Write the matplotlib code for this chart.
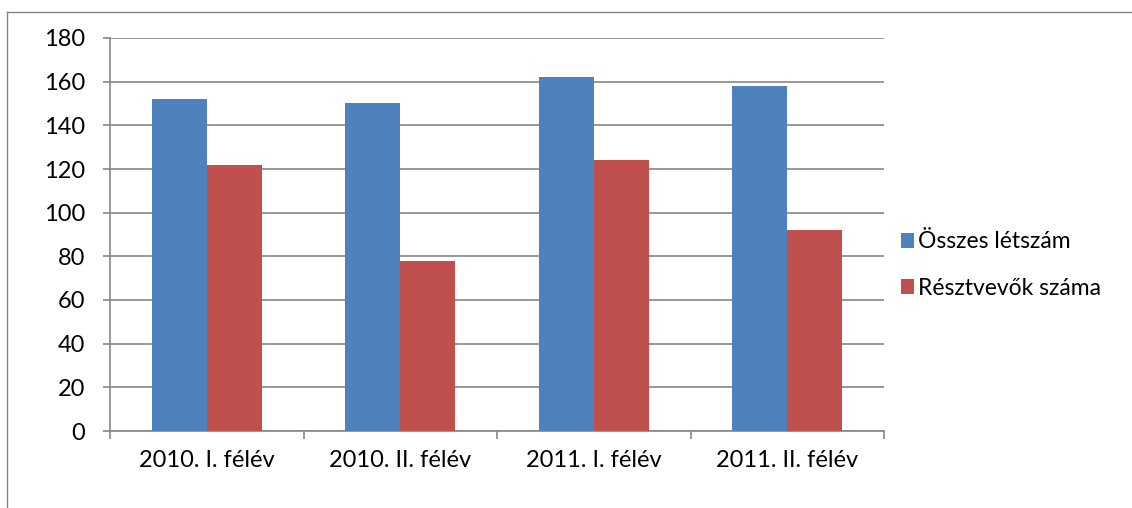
import numpy as np
import matplotlib.pyplot as plt
from matplotlib.lines import Line2D

plt.rcParams['font.family'] = ['Lato', 'DejaVu Sans']

categories = ['2010. I. félév', '2010. II. félév', '2011. I. félév', '2011. II. félév']
osszes = [152, 150, 162, 158]
resztvevok = [122, 78, 124, 92]
yticks = [0, 20, 40, 60, 80, 100, 120, 140, 160, 180]

W, H = 1132, 508
fig = plt.figure(figsize=(W / 100, H / 100), dpi=100)
ax = fig.add_axes([110 / W, 1 - 431 / H, (884 - 110) / W, (431 - 38) / H])

x = np.arange(len(categories))
bw = 0.285
ax.bar(x - bw / 2, osszes, bw, color='#4F81BD', label='Összes létszám', zorder=3)
ax.bar(x + bw / 2, resztvevok, bw, color='#C0504D', label='Résztvevők száma', zorder=3)

ax.set_xlim(-0.5, len(categories) - 0.5)
ax.set_ylim(0, 180)
ax.set_yticks(yticks)
ax.yaxis.grid(True, color='#868686', linewidth=1.2, zorder=0)
ax.set_axisbelow(True)

# category labels centred, tick marks on boundaries
ax.set_xticks(x)
ax.set_xticklabels(categories, fontsize=17)
ax.tick_params(axis='x', length=0, pad=14)
ax.set_xticks(np.arange(-0.5, len(categories)), minor=True)
ax.tick_params(axis='x', which='minor', length=6, color='#868686', width=1.2)
ax.tick_params(axis='y', labelsize=17, length=5, color='#868686', width=1.2, pad=13)

for s in ['top', 'right']:
    ax.spines[s].set_visible(False)
for s in ['left', 'bottom']:
    ax.spines[s].set_color('#868686')
    ax.spines[s].set_linewidth(1.2)

fig.legend(loc='center left', bbox_to_anchor=(880 / W, 1 - 265 / H), frameon=False,
           fontsize=16.5, handlelength=0.6, handleheight=0.6, handletextpad=0.15,
           labelspacing=1.1)

# outer chart border
fig.add_artist(Line2D([7 / W, 7 / W], [0, 1 - 12 / H], color='#868686', lw=1, transform=fig.transFigure))
fig.add_artist(Line2D([7 / W, 1], [1 - 12 / H, 1 - 12 / H], color='#868686', lw=1, transform=fig.transFigure))

fig.savefig('out.png', dpi=100)
